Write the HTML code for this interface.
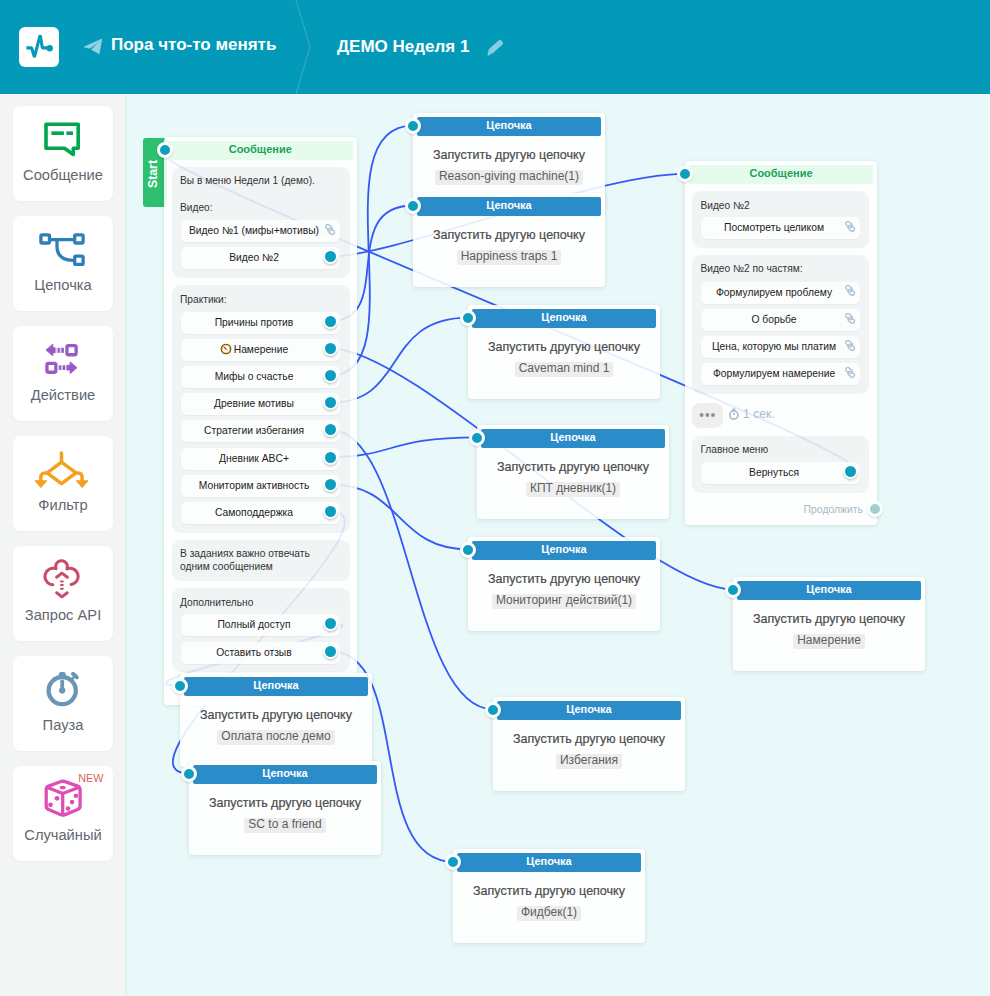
<!DOCTYPE html><html><head><meta charset="utf-8"><title>flow</title><style>
*{box-sizing:border-box;margin:0;padding:0}
html,body{width:990px;height:996px;overflow:hidden}
body{font-family:"Liberation Sans",sans-serif;background:#e9f8f8;position:relative;color:#333}
.abs{position:absolute}
#hdr{position:absolute;left:0;top:0;width:990px;height:94px;background:#0399b8;box-shadow:inset 0 -1px 0 #0893b0}
#hl{position:absolute;left:0;top:94px;width:990px;height:1px;background:#fbfdfd}
#side{position:absolute;left:0;top:95px;width:125px;height:901px;background:#f3f5f4;box-shadow:1px 0 3px rgba(0,80,90,.08)}
.card{position:absolute;left:13px;width:100px;height:95px;background:#fff;border-radius:8px;box-shadow:0 1px 2px rgba(0,0,0,.03)}
.card .lbl{position:absolute;left:0;right:0;top:61px;text-align:center;font-size:14.7px;color:#5f6770;white-space:nowrap;line-height:17px}
.node{position:absolute;background:rgba(255,255,255,.88);border-radius:4px;box-shadow:0 1px 4px rgba(0,60,70,.13)}
.chain{width:192px;height:94px}
.chain .h{position:absolute;left:4px;right:4px;top:4px;height:19px;background:#2a8cc8;color:#fff;font-weight:bold;font-size:11px;text-align:center;line-height:17.5px;border-radius:2px}
.chain .t{position:absolute;left:0;right:0;top:35px;text-align:center;font-size:12.5px;color:#4c4c4c;white-space:nowrap;line-height:15px;-webkit-text-stroke:.22px #4c4c4c}
.chain .g{position:absolute;left:0;right:0;top:54px;text-align:center;line-height:15px;height:15px}
.chain .g span{display:inline-block;background:rgba(236,236,236,.95);color:#5e5e5e;font-size:12px;padding:0 4px;height:15px;line-height:13.6px;border-radius:2px;white-space:nowrap}
.dot{position:absolute;width:16px;height:16px;margin:-8px 0 0 -8px;border-radius:50%;background:#0a9ec0;border:3px solid #fff;box-shadow:0 1px 2px rgba(0,0,0,.15)}
.blk{position:absolute;background:rgba(30,50,50,.055);border-radius:9px}
.btn{position:absolute;height:22px;background:rgba(255,255,255,.8);border-radius:6px;text-align:center;font-size:10.3px;line-height:22px;color:#222;white-space:nowrap;padding-right:13px;box-shadow:0 1px 1px rgba(0,0,0,.04)}
.bdot{position:absolute;width:15px;height:15px;margin:-7.5px 0 0 -7.5px;border-radius:50%;background:#0a9ec0;border:2.75px solid #fff;box-shadow:0 1.5px 2px rgba(0,0,0,.2)}
.txt{position:absolute;font-size:10.2px;color:#333;white-space:nowrap;line-height:13px}
.mh{position:absolute;height:19px;background:#e5fced;color:#21a05a;font-weight:bold;font-size:11px;text-align:center;line-height:17px}
</style></head><body>
<div id="hdr">
<svg class="abs" style="left:0;top:0" width="990" height="94"><rect x="19" y="27" width="40" height="40" rx="6" fill="#fff"/><path d="M26.4 47.9H31.6L34.4 57L40.2 35.2L42.4 47.9H49" fill="none" stroke="#0399b8" stroke-width="3.1" stroke-linejoin="bevel"/><circle cx="49.7" cy="48.2" r="3.2" fill="#0399b8"/><path d="M84.1 46.9L101.6 39.1L96.5 43.5L89.9 48.3Z" fill="#96d3e2" stroke="#96d3e2" stroke-width=".6" stroke-linejoin="round"/><path d="M91.4 49.5L101.8 39.3L99.1 53.8Z" fill="#96d3e2" stroke="#96d3e2" stroke-width=".6" stroke-linejoin="round"/><path d="M296 0L310 47L296 94" fill="none" stroke="rgba(255,255,255,.22)" stroke-width="1"/><g transform="translate(494.6 47.8) rotate(-42)" fill="#88cddf"><rect x="-6.6" y="-2.8" width="16.4" height="5.6" rx="1.6"/><path d="M-6.6 -2.1L-10.3 0.6L-9.6 1.6L-6.6 2.3Z"/></g></svg>
<div class="abs" style="left:111px;top:35.2px;font-size:17px;font-weight:bold;color:#fff;line-height:20px;white-space:nowrap">Пора что-то менять</div>
<div class="abs" style="left:337px;top:37px;font-size:17px;font-weight:bold;color:#fff;line-height:20px;white-space:nowrap">ДЕМО Неделя 1</div>
</div>
<div id="side"></div><div id="hl"></div>
<div class="card" style="top:106px"><div class="lbl">Сообщение</div></div>
<div class="card" style="top:216px"><div class="lbl">Цепочка</div></div>
<div class="card" style="top:326px"><div class="lbl">Действие</div></div>
<div class="card" style="top:436px"><div class="lbl">Фильтр</div></div>
<div class="card" style="top:546px"><div class="lbl">Запрос API</div></div>
<div class="card" style="top:656px"><div class="lbl">Пауза</div></div>
<div class="card" style="top:766px"><div class="lbl">Случайный</div></div>

<svg class="abs" style="left:0;top:0" width="125" height="996">
<g fill="none" stroke="#00a650" stroke-width="3.6" stroke-linejoin="round">
<path d="M46 124.3H78.2V148.2H73.3V154.5L64.5 148.2H46Z"/>
</g>
<rect x="51.4" y="131.4" width="12.5" height="3.6" fill="#00a650"/><rect x="66.4" y="131.4" width="6.6" height="3.6" fill="#00a650"/>
<g fill="none" stroke="#2e7fb8" stroke-width="3.3" stroke-linejoin="round">
<rect x="40.9" y="234.8" width="8.6" height="8.2" rx="1.2"/>
<rect x="74.7" y="234.8" width="8.4" height="8.2" rx="1.2"/>
<rect x="74.7" y="256.1" width="8.4" height="8.3" rx="1.2"/>
<path d="M51 239.7H73M57 240V246C57 255 62 260.3 73 260.3"/>
</g>
<g fill="#9b59c6">
<path d="M46.1 350L52.8 344.2V347.8H55V352.8H52.8V355.8Z" stroke="#9b59c6" stroke-width="1" stroke-linejoin="round"/>
<rect x="54" y="347.8" width="10" height="5" fill="#9b59c6" opacity=".3"/>
<rect x="57.8" y="347.8" width="1.9" height="5"/><rect x="61.4" y="347.8" width="2.5" height="5"/>
<path d="M76.9 367.8L70.2 361.9V365.3H67V370H70.2V373.6Z" stroke="#9b59c6" stroke-width="1" stroke-linejoin="round"/>
<rect x="58" y="365.3" width="10" height="4.7" fill="#9b59c6" opacity=".3"/>
<rect x="59.2" y="365.3" width="1.9" height="4.7"/><rect x="62.8" y="365.3" width="2.2" height="4.7"/>
</g>
<g fill="none" stroke="#9b59c6" stroke-width="3.3" stroke-linejoin="round">
<rect x="66.95" y="345.55" width="9.2" height="9.2" rx="1.5"/>
<rect x="46.95" y="363.35" width="8.9" height="8.9" rx="1.5"/>
</g>
<g fill="none" stroke="#f2a122" stroke-width="3.5" stroke-linejoin="round" stroke-linecap="round">
<path d="M61.5 452.9V462.2"/>
<path d="M61.5 462.2L47.1 472.9L61.5 483.7L76 472.9Z"/>
<path d="M47.1 472.9H45C42.5 472.9 40.8 474.6 40.8 477V481"/>
<path d="M76 472.9H78C80.5 472.9 82.1 474.6 82.1 477V481"/>
</g>
<g fill="#f2a122" stroke="#f2a122" stroke-width="1" stroke-linejoin="round">
<path d="M35 480.8H46.8L40.8 487.5Z"/><path d="M76.3 480.8H88.1L82.2 487.5Z"/>
</g>
<g fill="none" stroke="#c94b68" stroke-width="3" stroke-linecap="round" stroke-linejoin="round">
<path d="M52.9 584.8A8.3 8.3 0 1 1 56.1 568.7A5.85 5.85 0 1 1 66.9 568.9A8.1 8.1 0 1 1 71.1 584.4"/>
<path d="M56.6 577.2L61.9 573.1L67.4 577.2"/>
<path d="M56.7 592.8L61.9 596.9L67.3 592.8"/>
</g>
<g stroke="#c94b68" stroke-width="2" stroke-linecap="round">
<path d="M61 581.4H62.8M61 585.1H62.8M61 588.8H62.8"/>
</g>
<g fill="none" stroke="#6a96b6" stroke-linecap="round">
<circle cx="62.2" cy="690.6" r="13.6" stroke-width="4.3"/>
<path d="M62.2 681.3V689" stroke-width="3.8"/>
<path d="M73 673.8L76.8 677.3" stroke-width="4"/><path d="M72 679.5L74.6 676.2" stroke-width="2.6"/>
</g>
<circle cx="62.2" cy="690.4" r="3.1" fill="#6a96b6"/>
<rect x="58.9" y="672" width="6.9" height="4.5" rx="2.2" fill="#6a96b6"/>
<g fill="none" stroke="#dd4fb4" stroke-width="3.3" stroke-linejoin="round">
<path d="M65.15 781.67Q62.7 780.8 60.27 781.71L48.63 786.09Q46.2 787 46.20 789.60L46.20 805.90Q46.2 808.5 48.59 809.53L60.31 814.57Q62.7 815.6 65.11 814.62L77.69 809.48Q80.1 808.5 80.10 805.90L80.10 789.60Q80.1 787 77.65 786.13Z"/>
<path d="M46.2 787L62.7 793.5L80.1 787M62.7 793.5V815.5"/>
</g>
<g fill="#dd4fb4">
<ellipse cx="62.7" cy="787.5" rx="3" ry="1.8"/>
<circle cx="57" cy="798.3" r="2.4"/><circle cx="50.5" cy="804.8" r="2.4"/>
<circle cx="75.9" cy="795.7" r="2.3"/><circle cx="72.1" cy="802.1" r="2.3"/><circle cx="68" cy="808.6" r="2.3"/>
</g>
<text x="78.2" y="781.8" font-family="Liberation Sans" font-size="10.8" fill="#d9635a">NEW</text>
</svg>
<svg class="abs" style="left:0;top:0" width="990" height="996"><g fill="none" stroke="#3459f7" stroke-width="1.8"><path d="M330.3 256.6C394.3 256.6 595 173.9 685 173.9"/><path d="M330.3 321.1C396.3 321.1 337 205.5 413 205.5"/><path d="M330.3 375.5C418.3 375.5 317 125.6 413 125.6"/><path d="M330.3 348.3C416.3 348.3 647 589.5 733 589.5"/><path d="M330.3 402.70000000000005C408.3 402.70000000000005 381 317.6 469 317.6"/><path d="M330.3 429.90000000000003C408.3 429.90000000000003 411 709.3 493 709.3"/><path d="M330.3 457.1C394.3 457.1 387.2 437.4 477.2 437.4"/><path d="M330.3 484.3C402.3 484.3 395.2 549.4 469.2 549.4"/><path d="M330.3 511.5C414.3 511.5 100.6 773.2 188.6 773.2"/><path d="M330.3 623.8000000000001C406.3 623.8000000000001 93.5 685.7 181.5 685.7"/><path d="M330.3 651.3000000000001C412.3 651.3000000000001 365.5 861.8 453.5 861.8"/><path d="M850 471.5C932 471.5 85.30000000000001 149.7 165.3 149.7"/></g></svg>
<div class="abs" style="left:142.5px;top:137.6px;width:24px;height:69.6px;background:#2fbf71;border-radius:3px"></div>
<div class="abs" style="left:152.6px;top:173.7px;width:0;height:0"><div style="position:absolute;left:-20px;top:-8px;width:40px;height:16px;line-height:16px;text-align:center;color:#fff;font-weight:bold;font-size:12.3px;transform:rotate(-90deg)">Start</div></div>
<div class="node" style="left:164px;top:137px;width:193px;height:568px">
</div>
<div class="mh" style="left:168px;top:141px;width:184.5px">Сообщение</div>
<div class="blk" style="left:171.5px;top:166.5px;width:178px;height:111.5px"></div>
<div class="txt" style="left:180px;top:173.5px">Вы в меню Недели 1 (демо).</div>
<div class="txt" style="left:180px;top:200.8px">Видео:</div>
<div class="btn" style="left:181px;top:220px;width:159px">Видео №1 (мифы+мотивы)</div>
<svg class="abs" width="12" height="12" viewBox="0 0 12 12" style="left:324px;top:223.8px"><g fill="none" stroke="#aac0d1" stroke-width="1.3"><rect x="1.5" y="1.4" width="7" height="4.2" rx="2" transform="rotate(38 5 3.5)"/><rect x="3.7" y="5.2" width="7" height="4.2" rx="2" transform="rotate(38 7.2 7.3)"/></g></svg>
<div class="btn" style="left:181px;top:247px;width:159px">Видео №2</div>
<div class="blk" style="left:171.5px;top:285.3px;width:178px;height:248px"></div>
<div class="txt" style="left:180px;top:293.3px">Практики:</div>
<div class="btn" style="left:181px;top:311.5px;width:159px">Причины против</div>
<div class="btn" style="left:181px;top:338.7px;width:159px"><svg width="12" height="12" viewBox="0 0 12 12" style="vertical-align:-2px;margin-right:2px"><circle cx="6" cy="6" r="5.3" fill="#3a2a00"/><circle cx="6" cy="6" r="4.6" fill="#f0b429"/><circle cx="6" cy="6" r="3.4" fill="#fff"/><path d="M3.9 3.9L6 6" stroke="#e03131" stroke-width="1.3" stroke-linecap="round"/><path d="M6 6L7.6 7.6" stroke="#9a9a9a" stroke-width="1"/></svg>Намерение</div>
<div class="btn" style="left:181px;top:365.9px;width:159px">Мифы о счастье</div>
<div class="btn" style="left:181px;top:393.1px;width:159px">Древние мотивы</div>
<div class="btn" style="left:181px;top:420.3px;width:159px">Стратегии избегания</div>
<div class="btn" style="left:181px;top:447.5px;width:159px">Дневник ABC+</div>
<div class="btn" style="left:181px;top:474.7px;width:159px">Мониторим активность</div>
<div class="btn" style="left:181px;top:501.9px;width:159px">Самоподдержка</div>
<div class="blk" style="left:171.5px;top:540px;width:178px;height:40.6px"></div>
<div class="txt" style="left:180px;top:547px">В заданиях важно отвечать<br>одним сообщением</div>
<div class="blk" style="left:171.5px;top:588px;width:178px;height:84.3px"></div>
<div class="txt" style="left:180px;top:596.3px">Дополнительно</div>
<div class="btn" style="left:181px;top:614.2px;width:159px">Полный доступ</div>
<div class="btn" style="left:181px;top:641.7px;width:159px">Оставить отзыв</div>
<div class="bdot" style="left:330.3px;top:256.6px"></div>
<div class="bdot" style="left:330.3px;top:321.1px"></div>
<div class="bdot" style="left:330.3px;top:348.3px"></div>
<div class="bdot" style="left:330.3px;top:375.5px"></div>
<div class="bdot" style="left:330.3px;top:402.70000000000005px"></div>
<div class="bdot" style="left:330.3px;top:429.90000000000003px"></div>
<div class="bdot" style="left:330.3px;top:457.1px"></div>
<div class="bdot" style="left:330.3px;top:484.3px"></div>
<div class="bdot" style="left:330.3px;top:511.5px"></div>
<div class="bdot" style="left:330.3px;top:623.8000000000001px"></div>
<div class="bdot" style="left:330.3px;top:651.3000000000001px"></div>
<div class="dot" style="left:165.3px;top:149.7px"></div>
<div class="node" style="left:685px;top:161px;width:192px;height:364px"></div>
<div class="mh" style="left:689px;top:165px;width:184px">Сообщение</div>
<div class="blk" style="left:692px;top:190.7px;width:177px;height:57.3px"></div>
<div class="txt" style="left:700.4px;top:199.2px">Видео №2</div>
<div class="btn" style="left:700.7px;top:216.7px;width:159.7px">Посмотреть целиком</div>
<svg class="abs" width="12" height="12" viewBox="0 0 12 12" style="left:844px;top:220.5px"><g fill="none" stroke="#aac0d1" stroke-width="1.3"><rect x="1.5" y="1.4" width="7" height="4.2" rx="2" transform="rotate(38 5 3.5)"/><rect x="3.7" y="5.2" width="7" height="4.2" rx="2" transform="rotate(38 7.2 7.3)"/></g></svg>
<div class="blk" style="left:692px;top:255px;width:177px;height:139.4px"></div>
<div class="txt" style="left:700.4px;top:261.8px">Видео №2 по частям:</div>
<div class="btn" style="left:700.7px;top:281.5px;width:159.7px">Формулируем проблему</div>
<svg class="abs" width="12" height="12" viewBox="0 0 12 12" style="left:844px;top:285.3px"><g fill="none" stroke="#aac0d1" stroke-width="1.3"><rect x="1.5" y="1.4" width="7" height="4.2" rx="2" transform="rotate(38 5 3.5)"/><rect x="3.7" y="5.2" width="7" height="4.2" rx="2" transform="rotate(38 7.2 7.3)"/></g></svg>
<div class="btn" style="left:700.7px;top:308.8px;width:159.7px">О борьбе</div>
<svg class="abs" width="12" height="12" viewBox="0 0 12 12" style="left:844px;top:312.6px"><g fill="none" stroke="#aac0d1" stroke-width="1.3"><rect x="1.5" y="1.4" width="7" height="4.2" rx="2" transform="rotate(38 5 3.5)"/><rect x="3.7" y="5.2" width="7" height="4.2" rx="2" transform="rotate(38 7.2 7.3)"/></g></svg>
<div class="btn" style="left:700.7px;top:336.1px;width:159.7px">Цена, которую мы платим</div>
<svg class="abs" width="12" height="12" viewBox="0 0 12 12" style="left:844px;top:339.90000000000003px"><g fill="none" stroke="#aac0d1" stroke-width="1.3"><rect x="1.5" y="1.4" width="7" height="4.2" rx="2" transform="rotate(38 5 3.5)"/><rect x="3.7" y="5.2" width="7" height="4.2" rx="2" transform="rotate(38 7.2 7.3)"/></g></svg>
<div class="btn" style="left:700.7px;top:363.4px;width:159.7px">Формулируем намерение</div>
<svg class="abs" width="12" height="12" viewBox="0 0 12 12" style="left:844px;top:367.2px"><g fill="none" stroke="#aac0d1" stroke-width="1.3"><rect x="1.5" y="1.4" width="7" height="4.2" rx="2" transform="rotate(38 5 3.5)"/><rect x="3.7" y="5.2" width="7" height="4.2" rx="2" transform="rotate(38 7.2 7.3)"/></g></svg>
<div class="abs" style="left:692px;top:402.8px;width:31.3px;height:25px;background:#efefef;border-radius:8px"></div>
<svg class="abs" style="left:692px;top:402.8px" width="32" height="25"><g fill="#8a9099"><circle cx="9.6" cy="12" r="1.9"/><circle cx="15.4" cy="12" r="1.9"/><circle cx="21" cy="12" r="1.9"/></g></svg>
<svg class="abs" style="left:727px;top:406px" width="14" height="15"><g fill="none" stroke="#a9bccb" stroke-width="1.6"><circle cx="6.8" cy="9" r="4.1"/><path d="M6.8 9V7"/><path d="M5.2 3.3H8.4"/></g></svg>
<div class="abs" style="left:743px;top:407px;font-size:12.2px;line-height:14px;color:#a9bccb;white-space:nowrap">1 сек.</div>
<div class="blk" style="left:692px;top:435.5px;width:177px;height:57.4px"></div>
<div class="txt" style="left:700.4px;top:442.7px">Главное меню</div>
<div class="btn" style="left:700.7px;top:462.2px;width:159.7px">Вернуться</div>
<div class="bdot" style="left:850px;top:471.5px"></div>
<div class="abs" style="left:790px;top:502.5px;width:73px;text-align:right;font-size:10.4px;line-height:13px;color:#aab8c3;white-space:nowrap">Продолжить</div>
<div class="dot" style="left:875px;top:509.3px;background:#9fcfcf"></div>
<div class="dot" style="left:685px;top:173.5px"></div>
<div class="node chain" style="left:413px;top:113px"><div class="h">Цепочка</div><div class="t">Запустить другую цепочку</div><div class="g"><span>Reason-giving machine(1)</span></div></div>
<div class="dot" style="left:413px;top:125.5px"></div>
<div class="node chain" style="left:413px;top:193px"><div class="h">Цепочка</div><div class="t">Запустить другую цепочку</div><div class="g"><span>Happiness traps 1</span></div></div>
<div class="dot" style="left:413px;top:205.5px"></div>
<div class="node chain" style="left:468px;top:305px"><div class="h">Цепочка</div><div class="t">Запустить другую цепочку</div><div class="g"><span>Caveman mind 1</span></div></div>
<div class="dot" style="left:468px;top:317.5px"></div>
<div class="node chain" style="left:477px;top:425px"><div class="h">Цепочка</div><div class="t">Запустить другую цепочку</div><div class="g"><span>КПТ дневник(1)</span></div></div>
<div class="dot" style="left:477px;top:437.5px"></div>
<div class="node chain" style="left:468px;top:537px"><div class="h">Цепочка</div><div class="t">Запустить другую цепочку</div><div class="g"><span>Мониторинг действий(1)</span></div></div>
<div class="dot" style="left:468px;top:549.5px"></div>
<div class="node chain" style="left:733px;top:577px"><div class="h">Цепочка</div><div class="t">Запустить другую цепочку</div><div class="g"><span>Намерение</span></div></div>
<div class="dot" style="left:733px;top:589.5px"></div>
<div class="node chain" style="left:493px;top:697px"><div class="h">Цепочка</div><div class="t">Запустить другую цепочку</div><div class="g"><span>Избегания</span></div></div>
<div class="dot" style="left:493px;top:709.5px"></div>
<div class="node chain" style="left:180px;top:673px"><div class="h">Цепочка</div><div class="t">Запустить другую цепочку</div><div class="g"><span>Оплата после демо</span></div></div>
<div class="dot" style="left:180px;top:685.5px"></div>
<div class="node chain" style="left:189px;top:761px"><div class="h">Цепочка</div><div class="t">Запустить другую цепочку</div><div class="g"><span>SC to a friend</span></div></div>
<div class="dot" style="left:189px;top:773.5px"></div>
<div class="node chain" style="left:453px;top:849px"><div class="h">Цепочка</div><div class="t">Запустить другую цепочку</div><div class="g"><span>Фидбек(1)</span></div></div>
<div class="dot" style="left:453px;top:861.5px"></div>
</body></html>
